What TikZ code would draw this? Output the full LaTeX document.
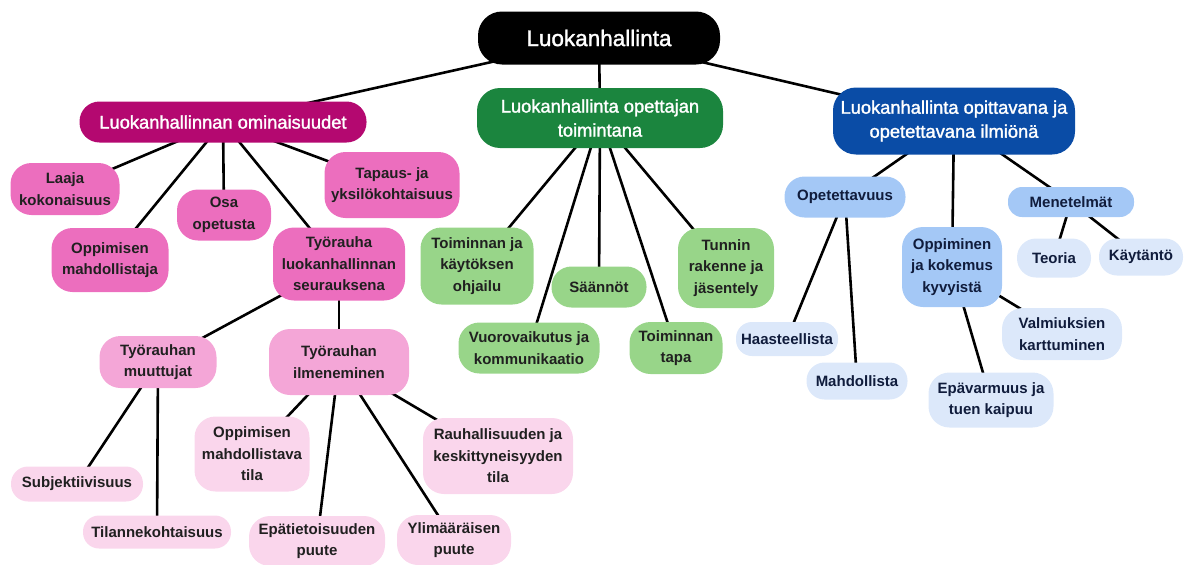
\documentclass[tikz,border=0pt]{standalone}
\usepackage{fontspec}
\setmainfont{Liberation Sans}
\newfontfamily\headfont[FakeBold=1.6]{Liberation Sans}
\usetikzlibrary{backgrounds}
\definecolor{rootblack}{RGB}{0,0,0}
\definecolor{pinkmain}{RGB}{180,8,112}
\definecolor{pinkmid}{RGB}{236,110,190}
\definecolor{pinklight}{RGB}{244,166,215}
\definecolor{pinkpale}{RGB}{250,214,236}
\definecolor{greenmain}{RGB}{27,133,62}
\definecolor{greenleaf}{RGB}{152,213,137}
\definecolor{bluemain}{RGB}{10,76,166}
\definecolor{bluemid}{RGB}{164,200,246}
\definecolor{bluepale}{RGB}{220,232,250}
\definecolor{darktext}{RGB}{32,32,32}
\definecolor{navytext}{RGB}{16,28,60}

\begin{document}
\begin{tikzpicture}[x=1pt, y=-1pt,
    box/.style={rounded corners=21pt, align=center, inner sep=0pt, text=darktext,
      font=\bfseries\fontsize{15}{21.5}\selectfont},
    head/.style={box, rounded corners=23pt, text=white, font=\headfont\fontsize{18.3}{24}\selectfont},
    link/.style={line width=2.6pt, black}]
  \useasboundingbox (0,0) rectangle (1184,565);
  % root and the three branches
  \node[head, fill=rootblack, rounded corners=24pt, minimum width=242pt, minimum height=53pt,
    font=\headfont\fontsize{22.5}{26}\selectfont] (root) at (599,38) {Luokanhallinta};
  \node[head, fill=pinkmain, rounded corners=20pt, minimum width=287pt, minimum height=41pt] (pm) at (223,122) {Luokanhallinnan ominaisuudet};
  \node[head, fill=greenmain, minimum width=246pt, minimum height=60pt] (gm) at (600,118) {Luokanhallinta opettajan\\toimintana};
  \node[head, fill=bluemain, minimum width=242pt, minimum height=67pt] (bm) at (954,121) {Luokanhallinta opittavana ja\\opetettavana ilmiönä};
  % pink branch
  \node[box, fill=pinkmid, minimum width=109pt, minimum height=52pt] (laaja) at (65,189) {Laaja\\kokonaisuus};
  \node[box, fill=pinkmid, minimum width=117pt, minimum height=64pt] (oppmahd) at (110,260) {Oppimisen\\mahdollistaja};
  \node[box, fill=pinkmid, minimum width=94pt, minimum height=51pt] (osa) at (224,215) {Osa\\opetusta};
  \node[box, fill=pinkmid, minimum width=135pt, minimum height=66pt] (tapaus) at (392,185) {Tapaus- ja\\yksilökohtaisuus};
  \node[box, fill=pinkmid, minimum width=132pt, minimum height=73pt] (tyorauha) at (339,264) {Työrauha\\luokanhallinnan\\seurauksena};
  \node[box, fill=pinklight, minimum width=117pt, minimum height=52pt] (muutt) at (158,362) {Työrauhan\\muuttujat};
  \node[box, fill=pinklight, minimum width=140pt, minimum height=66pt] (ilmen) at (339,362) {Työrauhan\\ilmeneminen};
  \node[box, fill=pinkpale, rounded corners=17pt, minimum width=132pt, minimum height=35pt] (subj) at (77,484) {Subjektiivisuus};
  \node[box, fill=pinkpale, rounded corners=16pt, minimum width=148pt, minimum height=33pt] (tilanne) at (157,532) {Tilannekohtaisuus};
  \node[box, fill=pinkpale, minimum width=115pt, minimum height=75pt] (oppmtila) at (252,454) {Oppimisen\\mahdollistava\\tila};
  \node[box, fill=pinkpale, minimum width=136pt, minimum height=50pt] (epatiet) at (317,541) {Epätietoisuuden\\puute};
  \node[box, fill=pinkpale, minimum width=114pt, minimum height=50pt] (ylim) at (454,540) {Ylimääräisen\\puute};
  \node[box, fill=pinkpale, minimum width=150pt, minimum height=76pt] (rauh) at (498,456) {Rauhallisuuden ja\\keskittyneisyyden\\tila};
  % green branch
  \node[box, fill=greenleaf, minimum width=113pt, minimum height=77pt] (ohjailu) at (477,266) {Toiminnan ja\\käytöksen\\ohjailu};
  \node[box, fill=greenleaf, rounded corners=20pt, minimum width=95pt, minimum height=41pt] (saannot) at (599,287) {Säännöt};
  \node[box, fill=greenleaf, minimum width=96pt, minimum height=80pt] (tunnin) at (726,268) {Tunnin\\rakenne ja\\jäsentely};
  \node[box, fill=greenleaf, minimum width=141pt, minimum height=51pt] (vuoro) at (529,348) {Vuorovaikutus ja\\kommunikaatio};
  \node[box, fill=greenleaf, minimum width=93pt, minimum height=52pt] (tapa) at (676,348) {Toiminnan\\tapa};
  % blue branch
  \node[box, fill=bluemid, text=navytext, rounded corners=20pt, minimum width=121pt, minimum height=41pt] (opet) at (845,197) {Opetettavuus};
  \node[box, fill=bluemid, text=navytext, minimum width=100pt, minimum height=80pt] (oppkok) at (952,267) {Oppiminen\\ja kokemus\\kyvyistä};
  \node[box, fill=bluemid, text=navytext, rounded corners=14pt, minimum width=126pt, minimum height=30pt] (menet) at (1071,202) {Menetelmät};
  \node[box, fill=bluepale, text=navytext, rounded corners=19pt, minimum width=74pt, minimum height=39pt] (teoria) at (1054,258) {Teoria};
  \node[box, fill=bluepale, text=navytext, rounded corners=18pt, minimum width=84pt, minimum height=37pt] (kaytanto) at (1141,257) {Käytäntö};
  \node[box, fill=bluepale, text=navytext, rounded corners=16pt, minimum width=102pt, minimum height=34pt] (haast) at (787,339) {Haasteellista};
  \node[box, fill=bluepale, text=navytext, rounded corners=18pt, minimum width=101pt, minimum height=37pt] (mahd) at (857,381) {Mahdollista};
  \node[box, fill=bluepale, text=navytext, minimum width=120pt, minimum height=52pt] (valm) at (1062,334) {Valmiuksien\\karttuminen};
  \node[box, fill=bluepale, text=navytext, minimum width=125pt, minimum height=55pt] (epav) at (991,400) {Epävarmuus ja\\tuen kaipuu};
  % connectors behind the boxes
  \begin{scope}[on background layer]
    \draw[link] (root.center) -- (pm.center);
    \draw[link] (root.center) -- (gm.center);
    \draw[link] (root.center) -- (bm.center);
    \draw[link] (pm.center) -- (laaja.center);
    \draw[link] (pm.center) -- (oppmahd.center);
    \draw[link] (pm.center) -- (osa.center);
    \draw[link] (pm.center) -- (tapaus.center);
    \draw[link] (pm.center) -- (tyorauha.center);
    \draw[link] (tyorauha.center) -- (muutt.center);
    \draw[link] (tyorauha.center) -- (ilmen.center);
    \draw[link] (muutt.center) -- (subj.center);
    \draw[link] (muutt.center) -- (tilanne.center);
    \draw[link] (ilmen.center) -- (oppmtila.center);
    \draw[link] (ilmen.center) -- (epatiet.center);
    \draw[link] (ilmen.center) -- (ylim.center);
    \draw[link] (ilmen.center) -- (rauh.center);
    \draw[link] (gm.center) -- (ohjailu.center);
    \draw[link] (gm.center) -- (saannot.center);
    \draw[link] (gm.center) -- (tunnin.center);
    \draw[link] (gm.center) -- (vuoro.center);
    \draw[link] (gm.center) -- (tapa.center);
    \draw[link] (bm.center) -- (opet.center);
    \draw[link] (bm.center) -- (oppkok.center);
    \draw[link] (bm.center) -- (menet.center);
    \draw[link] (opet.center) -- (haast.center);
    \draw[link] (opet.center) -- (mahd.center);
    \draw[link] (menet.center) -- (teoria.center);
    \draw[link] (menet.center) -- (kaytanto.center);
    \draw[link] (oppkok.center) -- (valm.center);
    \draw[link] (oppkok.center) -- (epav.center);
  \end{scope}
\end{tikzpicture}
\end{document}
